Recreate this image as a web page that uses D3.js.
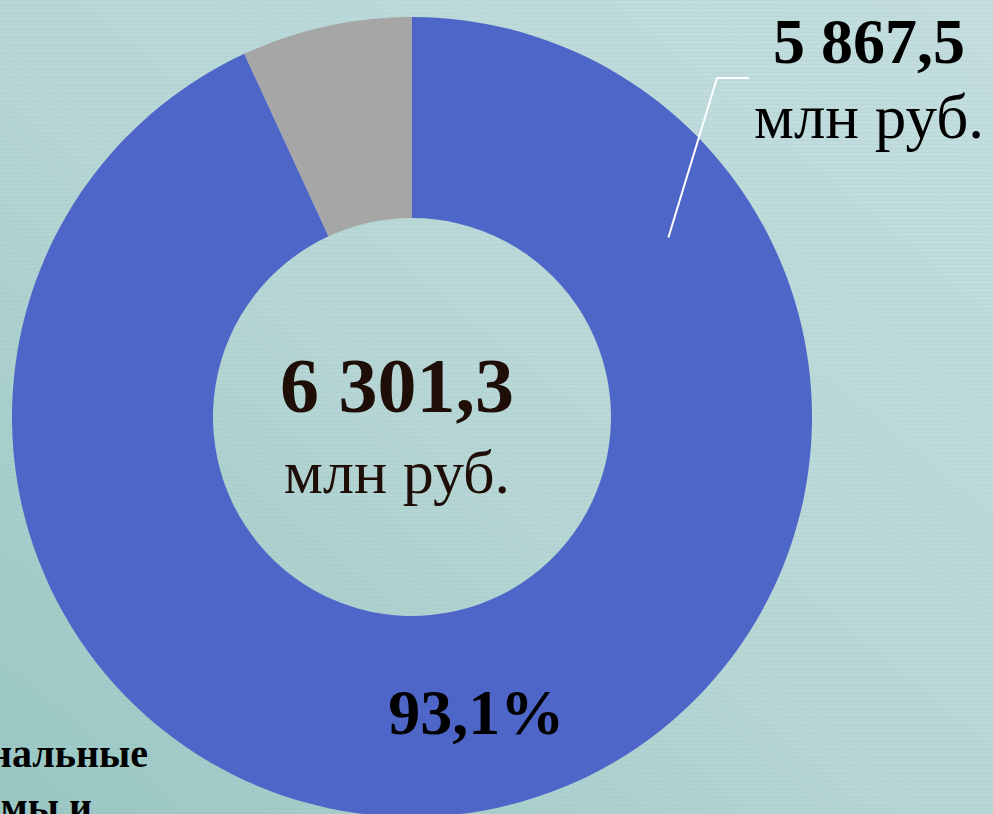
<!DOCTYPE html>
<html>
<head>
<meta charset="utf-8">
<script src="https://cdn.jsdelivr.net/npm/d3@7"></script>
<style>
  html, body { margin: 0; padding: 0; overflow: hidden; }
  svg { display: block; }
</style>
</head>
<body>
<svg></svg>
<script>
// data
let categories = ["Основная часть", "Прочее"]
let values = [5867.5, 433.8]
let colors = ["#4e66c8", "#a6a6a6"]
let totalText = "6 301,3"
let unitText = "млн руб."
let mainValueText = "5 867,5"
let mainShareText = "93,1%"
let legendLines = ["Региональные", "программы и"]

let width = 993
let height = 814
let cx = 412
let cy = 417
let outerR = 400
let innerR = 199

let svg = d3.select("svg")
svg.attr("width", width)
svg.attr("height", height)

let defs = svg.append("defs")
let grad = defs.append("linearGradient")
   .attr("id", "bg")
   .attr("x1", "0").attr("y1", "1")
   .attr("x2", "1").attr("y2", "0")
grad.append("stop").attr("offset", "0%").attr("stop-color", "#99c7c3")
grad.append("stop").attr("offset", "45%").attr("stop-color", "#b6d6d5")
grad.append("stop").attr("offset", "100%").attr("stop-color", "#c4dedf")

let stripes = defs.append("pattern")
   .attr("id", "stripes")
   .attr("width", 40).attr("height", 4)
   .attr("patternUnits", "userSpaceOnUse")
stripes.append("rect").attr("width", 40).attr("height", 1).attr("fill", "#6f9f9c").attr("opacity", 0.07)

svg.append("rect").attr("width", width).attr("height", height).attr("fill", "url(#bg)")
svg.append("rect").attr("width", width).attr("height", height).attr("fill", "url(#stripes)")

// donut: grey slice sits just left of 12 o'clock, blue fills the rest
let pie = d3.pie()
   .sort(null)
   .value((d) => d)
let arcs = pie(values)

let arc = d3.arc().innerRadius(innerR).outerRadius(outerR)

let g = svg.append("g").attr("transform", "translate(" + cx + "," + cy + ")")

g.selectAll("path")
 .data(arcs)
 .enter()
 .append("path")
 .attr("d", arc)
 .attr("fill", (d, i) => colors[i])

// leader line from inside the blue slice up to the value label
let p0 = d3.pointRadial(55 * Math.PI / 180, 313)
let p1 = [305, -339]
let p2 = [337, -339]
g.append("polyline")
 .attr("points", [p0, p1, p2].map((p) => p.join(",")).join(" "))
 .attr("fill", "none")
 .attr("stroke", "#ffffff")
 .attr("stroke-width", 2)

let serif = "'Liberation Serif', 'Times New Roman', serif"

let addText = (x, y, txt, size, weight, color) => {
  svg.append("text")
     .attr("x", x)
     .attr("y", y)
     .attr("text-anchor", "middle")
     .attr("font-family", serif)
     .attr("font-size", size)
     .attr("font-weight", weight)
     .attr("fill", color)
     .text(txt)
}

// centre total
addText(397, 412, totalText, 78, "bold", "#1e0e07")
addText(397, 493, unitText, 62, "normal", "#1e0e07")

// blue slice value
addText(869, 63, mainValueText, 64, "bold", "#000")
addText(869, 138, unitText, 63, "normal", "#000")

// share label at slice centroid
let c = arc.centroid(arcs[0])
addText(cx + c[0], cy + c[1] + 24, mainShareText, 64, "bold", "#000")

// legend text cut off at the left edge
let leg = svg.append("g")
leg.selectAll("text")
   .data(legendLines)
   .enter()
   .append("text")
   .attr("x", (d, i) => i == 0 ? 148 : 92)
   .attr("y", (d, i) => 767 + i * 53)
   .attr("text-anchor", "end")
   .attr("font-family", serif)
   .attr("font-size", 40)
   .attr("font-weight", "bold")
   .attr("fill", "#000")
   .text((d) => d)
</script>
</body>
</html>
